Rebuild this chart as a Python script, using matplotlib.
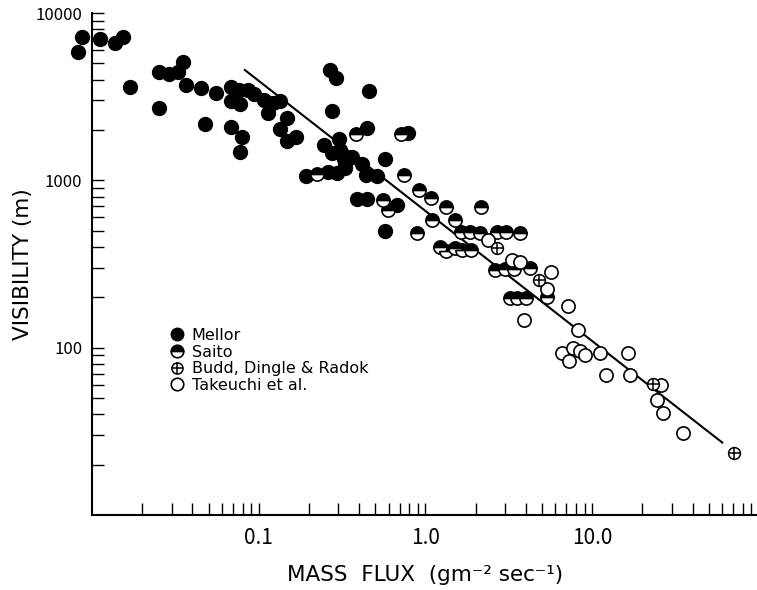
import matplotlib
matplotlib.use("Agg")
import matplotlib.pyplot as plt
from matplotlib.lines import Line2D
from matplotlib.legend_handler import HandlerTuple
from matplotlib.ticker import FixedLocator, FixedFormatter, LogLocator, NullFormatter


plt.rcParams['font.family'] = ['DejaVu Sans']
TICK_FONT = ['Noto Sans CJK JP', 'DejaVu Sans']


# Mellor (filled circles)
mellor_x = [0.0082, 0.0087, 0.0111, 0.0137, 0.0154, 0.0169, 0.0253, 0.0290, 0.0329, 0.0352,
            0.0253, 0.0365, 0.0448, 0.0553, 0.0477, 0.0677, 0.0763, 0.0860, 0.0934, 0.0684,
            0.0770, 0.0677, 0.0799, 0.0770, 0.108, 0.122, 0.135, 0.113, 0.147, 0.134,
            0.167, 0.148, 0.267, 0.290, 0.457, 0.274, 0.443, 0.783, 0.246, 0.302,
            0.276, 0.309, 0.324, 0.363, 0.331, 0.417, 0.437, 0.513, 0.568, 0.192,
            0.260, 0.295, 0.331, 0.389, 0.447, 0.675, 0.569]
mellor_y = [5850, 7190, 7000, 6620, 7160, 3630, 4430, 4325, 4430, 5090,
            2710, 3700, 3580, 3310, 2170, 3600, 3470, 3470, 3280, 2990,
            2860, 2090, 1820, 1480, 3020, 2890, 2990, 2520, 2350, 2020,
            1820, 1730, 4570, 4070, 3440, 2600, 2050, 1910, 1630, 1760,
            1450, 1520, 1340, 1380, 1240, 1260, 1080, 1060, 1340, 1055,
            1120, 1100, 1190, 771, 771, 713, 499]

# Saito (half filled)
saito_x = [0.2235, 0.382, 0.713, 0.741, 0.558, 0.592, 0.912, 1.072, 1.336, 2.15,
           1.097, 1.513, 0.892, 1.622, 1.836, 2.108, 2.69, 3.06, 3.68, 1.218,
           1.336, 1.513, 1.66, 1.862, 2.611, 2.977, 3.372, 4.223, 5.37, 3.19,
           3.548, 4.006]
saito_y = [1084, 1893, 1893, 1077, 764, 666, 870, 785, 696, 696,
           580, 580, 485, 492, 492, 485, 492, 492, 487, 398,
           380, 393, 383, 383, 292, 296, 296, 298, 200, 198,
           198, 198]

# Budd, Dingle & Radok (circle with cross)
budd_x = [2.69, 4.78, 23.2, 70.6]
budd_y = [393, 255, 60.8, 23.6]

# Takeuchi et al. (open circles)
takeuchi_x = [2.363, 3.311, 3.68, 5.64, 5.32, 3.887, 7.11, 8.19, 6.60, 7.69,
              8.42, 9.11, 7.23, 11.1, 16.3, 12.1, 16.8, 25.8, 24.3, 26.4, 34.8]
takeuchi_y = [437, 332, 323, 285, 223, 147, 178, 128, 92.7, 99.3,
              96.1, 90.6, 83.8, 92.7, 93.5, 68.8, 68.5, 59.5, 48.8, 40.6, 31.1]

# fitted line
fit_x = [0.0825, 60.2]
fit_y = [4565, 27.1]

x_ticks = [0.1, 1, 10]
x_tick_labels = ["0.1", "1.0", "10.0"]
y_ticks = [100, 1000, 10000]
y_tick_labels = ["100", "1000", "10000"]

labels = ["Mellor", "Saito", "Budd, Dingle & Radok", "Takeuchi et al."]


def graph():
    fig = plt.figure(figsize=(7.57, 5.90), dpi=100)
    ax = fig.add_axes([92 / 757, 75 / 590, 667 / 757, 502 / 590])
    ax.set_xscale("log")
    ax.set_yscale("log")

    ax.plot(fit_x, fit_y, color="black", linewidth=1.5, zorder=2)

    ax.plot(mellor_x, mellor_y, "o", ms=10, color="black", clip_on=False, zorder=3)
    ax.plot(saito_x, saito_y, "o", ms=9.5, fillstyle="top", markerfacecolor="black",
            markerfacecoloralt="white", markeredgecolor="black", mew=1.2, zorder=4)
    ax.plot(takeuchi_x, takeuchi_y, "o", ms=9.5, markerfacecolor="white",
            markeredgecolor="black", mew=1.2, zorder=4)
    ax.plot(budd_x, budd_y, "o", ms=8.5, markerfacecolor="white",
            markeredgecolor="black", mew=1.1, zorder=5, clip_on=False)
    ax.plot(budd_x, budd_y, "+", ms=8.5, color="black", mew=1.1, zorder=6, clip_on=False)

    ax.set_xlim(0.01, 100)
    ax.set_ylim(10, 10000)

    ax.xaxis.set_major_locator(FixedLocator(x_ticks))
    ax.xaxis.set_major_formatter(FixedFormatter(x_tick_labels))
    ax.xaxis.set_minor_locator(LogLocator(base=10, subs=range(2, 10)))
    ax.xaxis.set_minor_formatter(NullFormatter())
    ax.yaxis.set_major_locator(FixedLocator(y_ticks))
    ax.yaxis.set_major_formatter(FixedFormatter(y_tick_labels))
    ax.yaxis.set_minor_locator(LogLocator(base=10, subs=range(2, 10)))
    ax.yaxis.set_minor_formatter(NullFormatter())

    ax.tick_params(which="both", direction="in", length=8.5, width=1.0, color="black")
    ax.tick_params(axis="x", labelsize=15, pad=9)
    ax.tick_params(axis="y", labelsize=12, pad=7)
    for lab in ax.get_xticklabels() + ax.get_yticklabels():
        lab.set_family(TICK_FONT)

    for side in ("top", "right"):
        ax.spines[side].set_visible(False)
    for side in ("left", "bottom"):
        ax.spines[side].set_linewidth(1.5)

    ax.set_xlabel("MASS  FLUX  (gm⁻² sec⁻¹)", fontsize=15.5, labelpad=11)
    ax.set_ylabel("VISIBILITY (m)", fontsize=15.5)
    ax.yaxis.set_label_coords(-0.089, 0.5)

    h_mellor = Line2D([], [], ls="none", marker="o", ms=9, color="black")
    h_saito = Line2D([], [], ls="none", marker="o", ms=9, fillstyle="top",
                     markerfacecolor="black", markerfacecoloralt="white",
                     markeredgecolor="black", mew=1.2)
    h_ring = Line2D([], [], ls="none", marker="o", ms=8, markerfacecolor="white",
                    markeredgecolor="black", mew=1.1)
    h_plus = Line2D([], [], ls="none", marker="+", ms=8, color="black", mew=1.1)
    h_open = Line2D([], [], ls="none", marker="o", ms=9, markerfacecolor="white",
                    markeredgecolor="black", mew=1.2)

    fig.legend([h_mellor, h_saito, (h_ring, h_plus), h_open], labels,
               handler_map={tuple: HandlerTuple(ndivide=1)},
               loc="upper left", bbox_to_anchor=(171 / 757, 1 - 328 / 590),
               frameon=False, fontsize=11.5, labelspacing=0.1, handlelength=0.8,
               handletextpad=0.5, borderpad=0, borderaxespad=0, numpoints=1)

    fig.savefig("out.png", dpi=100)


if __name__ == "__main__":
    graph()
